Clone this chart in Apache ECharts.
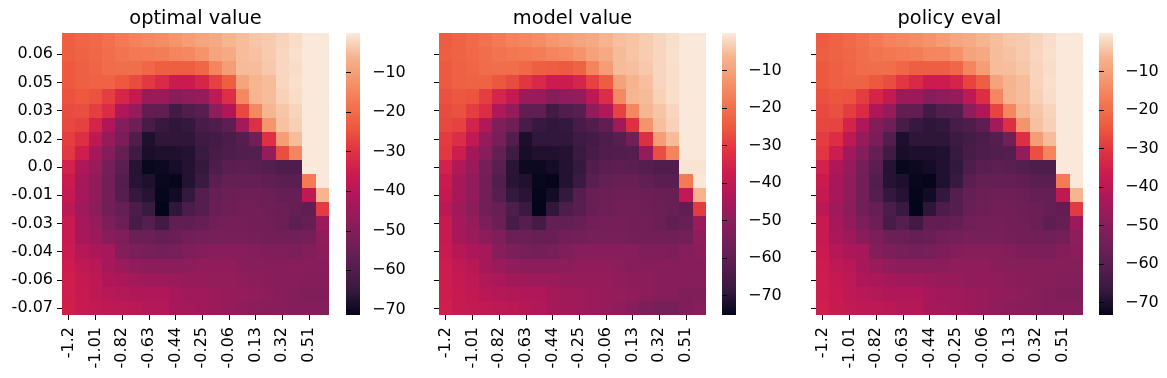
<!DOCTYPE html>
<html><head><meta charset="utf-8">
<style>html,body{margin:0;padding:0;background:#fff}#c{width:1167px;height:378px}</style>
<script src="https://cdn.jsdelivr.net/npm/echarts@6/dist/echarts.min.js"></script>
</head><body><div id="c"></div>
<script>
const xLabels=['-1.2','-1.11','-1.01','-0.91','-0.82','-0.73','-0.63','-0.54','-0.44','-0.35','-0.25','-0.15','-0.06','0.04','0.13','0.23','0.32','0.42','0.51','0.6'];
const yLabels=['0.07','0.06','0.06','0.05','0.04','0.03','0.03','0.02','0.01','0.0','-0.0','-0.01','-0.02','-0.03','-0.03','-0.04','-0.05','-0.06','-0.06','-0.07'];
const cbTicks1=[-10,-20,-30,-40,-50,-60,-70];
const cbTicks2=[-10,-20,-30,-40,-50,-60,-70];
const cbTicks3=[-10,-20,-30,-40,-50,-60,-70];
const titles=['optimal value','model value','policy eval'];
const ranges=[[-71.3,0],[-75.2,0],[-73.2,0]];
const rocket=['#03051a','#35193e','#541e4e','#701f57','#8e1d5b','#ad1759','#cb1b4f','#e13342','#ed5a3f','#f37651','#f5966d','#f6b48f','#faebdd'];
const optimal=[
[-23,-21.5,-20.5,-19,-17,-15.5,-14.5,-13.5,-12,-10.5,-9,-8,-6,-5,-4,-3.5,-2.5,-1.5,-.2,-.2],
[-23,-22,-21,-19.5,-18.5,-17.5,-17,-16.5,-15,-14.5,-12.5,-9,-8,-5,-4.5,-3.5,-2.3,-1.3,-.2,-.2],
[-24,-22.5,-21.5,-20,-19.5,-19.5,-21,-23,-23,-23,-21,-15,-10.5,-5.2,-5,-3.8,-2.3,-1.5,-.2,-.2],
[-24,-22.5,-22,-22,-24,-26,-29,-32,-36,-36,-33,-27.5,-23,-9,-6,-5,-2.3,-1.3,-.2,-.2],
[-25,-24,-25,-28,-33,-37,-45,-45,-49,-47.5,-46,-38,-31,-14.5,-6,-5,-2.8,-1.5,-.2,-.2],
[-26,-25.5,-28,-31.5,-41,-46,-56.5,-56.5,-63,-60,-58.8,-47.5,-41,-26.5,-14.5,-5.8,-4,-2.5,-.2,-.2],
[-26.5,-27.5,-33.5,-41,-50,-54,-61.6,-65,-66,-65.5,-61.6,-60.4,-57,-43.5,-30.5,-12,-4.5,-3,-.2,-.2],
[-28,-31,-38,-46,-51.5,-60,-68,-66,-66,-66,-63.5,-62.5,-60.9,-58.9,-53,-30.5,-10.5,-5,-.2,-.2],
[-29,-35,-43.5,-49.5,-56,-63.5,-68.5,-68,-68,-67.5,-64.5,-61.6,-60.4,-59.9,-59.4,-46,-25.5,-15,-.2,-.2],
[-34,-41,-45.5,-52.5,-58,-67,-70.5,-70,-69,-67.5,-65.5,-60.4,-58,-57.3,-58,-59.4,-60.4,-60.4,-.2,-.2],
[-36,-43,-47,-53,-59.9,-67,-68,-70.5,-71,-67.5,-64.5,-58,-56,-55.6,-55.6,-56.6,-58,-58,-17,-.2],
[-37,-43,-47,-53,-58.9,-65.5,-67,-71,-69.5,-65.5,-59.4,-55.6,-54.5,-54,-54,-54.5,-55.6,-55.6,-38,-6],
[-39,-44.5,-48,-53.5,-55.6,-61,-64.5,-71.3,-66,-60.9,-58.9,-55,-54,-53,-53,-54,-54.5,-55.6,-56.6,-28.5],
[-36.5,-43,-46.5,-51,-54.5,-62,-59.4,-63,-56.6,-56.6,-55.6,-53,-52.5,-52.5,-53,-53,-54.5,-57,-55.6,-45],
[-36.5,-42.5,-45,-48.5,-50.5,-54.5,-54.5,-55.6,-55,-53,-52.5,-52,-52,-52,-52.5,-53,-53,-53.5,-52.5,-47],
[-36,-40,-42,-43,-49.5,-51,-52,-52.5,-52,-50.5,-49.5,-49,-49,-49,-49.5,-50.5,-50.5,-51,-49.5,-48],
[-35.5,-38,-39.5,-43,-45.5,-47,-48,-48,-48,-48,-47,-47,-47,-48.5,-49,-49,-49,-49,-49,-49],
[-35,-37,-38.5,-41,-42,-43.5,-44,-44.5,-45,-46,-46,-46.5,-46.5,-47,-48,-48.5,-49,-49,-49.5,-49.5],
[-35,-36.5,-38,-39.5,-40.5,-41,-41,-41,-43,-44,-44.5,-45,-46,-46.5,-47,-48,-49,-49.5,-50.5,-50.5],
[-34.5,-36.5,-37.5,-38,-38.5,-39,-40,-40.5,-43,-43.5,-44,-45,-46,-47,-48,-48.5,-49,-49.5,-49.5,-49.5]];
const model=[
[-24.5,-23,-21.5,-20,-18,-16.5,-15.5,-14.5,-12.5,-11,-9.5,-8.5,-6.5,-5,-4.5,-3.5,-2.5,-1.5,-.2,-.2],
[-24,-23,-22,-20.5,-19.5,-18.5,-18,-17.5,-16,-15,-13,-10,-8.5,-5.5,-4.5,-3.5,-2.5,-1.3,-.2,-.2],
[-25,-23.5,-22.5,-21,-20.5,-20.5,-22,-24,-24.5,-25,-23,-16,-11,-5.5,-5,-4,-2.5,-1.5,-.2,-.2],
[-25,-23.5,-23,-23,-25.5,-27.5,-31,-34,-37.5,-37.5,-35,-29,-24.5,-10,-6.5,-5,-2.5,-1.5,-.2,-.2],
[-26.5,-25.5,-26,-29.5,-35,-39,-47.5,-47.5,-52,-50,-49,-40.5,-33,-15,-6,-5.5,-3,-1.5,-.2,-.2],
[-27.5,-26.5,-29.5,-33,-43,-48.5,-60,-60,-66.5,-63.5,-62,-50,-43,-29,-15.5,-6,-4.5,-2.5,-.2,-.2],
[-28,-29,-35.5,-43,-53,-57,-65,-68.5,-69.5,-69,-65,-63.5,-60,-46,-32,-13,-5,-3,-.2,-.2],
[-30,-33,-40,-48.5,-54.5,-63,-72,-69.5,-69.5,-69.5,-67,-66,-64,-62,-56,-32.5,-11,-5.5,-.2,-.2],
[-30.5,-37,-46,-52,-59,-67,-72.5,-71.5,-71.5,-71,-68,-65,-63.5,-63,-62.5,-48.5,-27,-16,-.2,-.2],
[-36,-43,-48,-55.5,-61,-70.5,-74,-74,-73,-71,-69,-63.5,-61,-60.5,-61,-62.5,-63.5,-63.5,-.8,-.8],
[-38,-45,-49.5,-56,-63,-70.5,-71.5,-74.5,-75,-71,-68,-61,-59,-58.5,-58.5,-59.5,-61,-61,-18,-.5],
[-39,-45,-49.5,-56,-62,-69,-70.5,-75,-73,-69,-62.5,-58.5,-57.5,-57,-57,-57.5,-58.5,-58.5,-40,-6.5],
[-41,-47,-50.5,-56.5,-58.5,-64,-68,-75.2,-69.5,-64,-62,-58,-57,-56,-56,-57,-57.5,-58.5,-60,-30],
[-38.5,-45,-49,-54,-57.5,-65,-62.5,-66,-59.5,-59.5,-58.5,-56,-55.5,-55.5,-56,-56,-57.5,-60,-58.5,-47.5],
[-38.5,-45,-47.5,-51,-53,-57.5,-57.5,-58.5,-58,-56,-55.5,-55,-55,-55,-55.5,-56,-56,-56.5,-55.5,-49.5],
[-38,-42,-44,-45.5,-52,-54,-55,-55.5,-55,-53,-52,-51.5,-51.5,-51.5,-52,-53,-53,-53.5,-52,-50.5],
[-37,-40,-41.5,-45,-48,-49.5,-50.5,-50.5,-50.5,-50.5,-49.5,-49.5,-49.5,-51,-51.5,-51.5,-51.5,-51.5,-51.5,-51.5],
[-37,-39,-40.5,-43,-44.5,-46,-46.5,-47,-47.5,-48.5,-48.5,-49,-49,-49.5,-50.5,-51,-51.5,-51.5,-52,-52],
[-37,-38.5,-40,-41.5,-42.5,-43,-43.5,-43.5,-45.5,-46.5,-47,-47.5,-48.5,-49,-49.5,-50.5,-51.5,-52,-53,-53],
[-36.5,-38.5,-39.5,-40,-40.5,-41,-42,-43,-45,-46,-47,-48,-49,-50,-52,-54,-55,-55,-53,-52]];
const policy=[
[-24,-22.5,-21,-19.5,-17.5,-16,-15,-14,-12.5,-11,-9,-8,-6,-5,-4,-3.5,-2.5,-1.5,-.2,-.2],
[-23.5,-22.5,-21.5,-20,-19,-18,-17.5,-17,-15.5,-15,-13,-9.5,-8.5,-5.2,-4.5,-3.5,-2.3,-1.3,-.2,-.2],
[-24.5,-23,-22,-20.5,-20,-20,-21.5,-23.5,-23.5,-23.5,-21.5,-15.5,-10.5,-5.2,-5,-4,-2.5,-1.5,-.2,-.2],
[-24.5,-23,-22.5,-22.5,-24.5,-26.5,-30,-33,-36.5,-36.5,-34,-28,-23.5,-9.5,-6.2,-5.2,-2.5,-1.3,-.2,-.2],
[-26,-25,-25.5,-29,-34,-38,-46,-46,-50.5,-49,-47.5,-39,-32,-15,-6,-5.2,-3,-1.5,-.2,-.2],
[-27,-26,-29,-32.5,-42,-47.5,-58,-58,-65,-61.5,-60.5,-49,-42,-28,-15,-6,-4.2,-2.5,-.2,-.2],
[-27.5,-28,-34.5,-42,-51.5,-55.5,-63.5,-67,-68,-67.5,-63.5,-62,-58.5,-44.5,-31.5,-12.5,-4.8,-3,-.2,-.2],
[-29,-32,-39,-47.5,-53,-61.5,-70,-68,-68,-68,-65.5,-64,-62.5,-60.5,-54.5,-31.5,-10.8,-5.2,-.2,-.2],
[-30,-36,-45,-51,-57.5,-65,-70.5,-70,-70,-69.5,-66.5,-63.5,-62,-61.5,-61,-47.5,-26,-15.5,-.2,-.2],
[-35,-42,-47,-54,-59.5,-69,-72.5,-72,-71,-69.5,-67.5,-62,-59.5,-59,-59.5,-61,-62,-62,-.2,-.2],
[-37,-44,-48.5,-54.5,-61.5,-69,-70,-72.5,-73,-69.5,-66.5,-59.5,-57.5,-57,-57,-58,-59.5,-59.5,-17.5,-.2],
[-38,-44,-48.5,-54.5,-60.5,-67.5,-69,-73,-71.5,-67.5,-61,-57,-56,-55.5,-55.5,-56,-57,-57,-39,-6],
[-40,-45.5,-49.5,-55,-57,-62.5,-66.5,-73.2,-68,-62.5,-60.5,-56.5,-55.5,-54.5,-54.5,-55.5,-56,-57,-58,-29.5],
[-37.5,-44,-48,-52.5,-56,-63.5,-61,-64.5,-58,-58,-57,-54.5,-54,-54,-54.5,-54.5,-56,-58.5,-57,-46],
[-37.5,-43.5,-46,-50,-52,-56,-56,-57,-56.5,-54.5,-54,-53.5,-53.5,-53.5,-54,-54.5,-54.5,-55,-54,-48.5],
[-37,-41,-43,-44,-51,-52.5,-53.5,-54,-53.5,-52,-51,-50.5,-50.5,-50.5,-51,-52,-52,-52.5,-51,-49.5],
[-36.5,-39,-40.5,-44,-46.5,-48.5,-49.5,-49.5,-49.5,-49.5,-48.5,-48.5,-48.5,-50,-50.5,-50.5,-50.5,-50.5,-50.5,-50.5],
[-36,-38,-39.5,-42,-43,-44.5,-45,-45.5,-46,-47,-47,-48,-48,-48.5,-49.5,-50,-50.5,-50.5,-51,-51],
[-36,-37.5,-39,-40.5,-41.5,-42,-42,-42,-44,-45,-45.5,-46,-47,-48,-48.5,-49.5,-50.5,-51,-52,-52],
[-35.5,-37.5,-38.5,-39,-39.5,-40,-41,-41.5,-44,-44.5,-45,-46,-47,-48.5,-49.5,-50,-50.5,-51,-51,-51]];
const matrices=[optimal,model,policy];
const cbTicks=[cbTicks1,cbTicks2,cbTicks3];
const FONT='"DejaVu Sans"';
const TICK='#000';
const FS=16;
const panelX=[62,439,816], cbX=[346,722,1099];
const TOP=33,W=267,H=282,CW=14;
const gradient=()=>new echarts.graphic.LinearGradient(0,1,0,0,rocket.map((c,i)=>({offset:i/(rocket.length-1),color:c})));
const renderCell=(params,api)=>{
  const c=api.coord([api.value(0),api.value(1)]);
  const s=api.size([1,1]);
  const x0=Math.round(c[0]-s[0]/2),x1=Math.round(c[0]+s[0]/2)+1;
  const y0=Math.round(c[1]-s[1]/2),y1=Math.round(c[1]+s[1]/2)+1;
  return {type:'rect',shape:{x:x0,y:y0,width:x1-x0,height:y1-y0},style:{fill:api.visual('color')}};
};
const opt={animation:false,backgroundColor:'#fff',title:[],grid:[],xAxis:[],yAxis:[],visualMap:[],series:[]};
matrices.forEach((m,p)=>{
  opt.title.push({text:titles[p],left:panelX[p]+W/2,top:9,textAlign:'center',padding:0,
    textStyle:{fontFamily:FONT,fontSize:19.4,fontWeight:'normal',color:TICK}});
  opt.grid.push({left:panelX[p],top:TOP,width:W,height:H});
  opt.xAxis.push({type:'category',gridIndex:p,data:xLabels,splitArea:{show:false},splitLine:{show:false},
    axisLine:{show:false},
    axisTick:{show:true,alignWithLabel:true,interval:1,length:5,lineStyle:{color:TICK,width:1}},
    axisLabel:{show:true,interval:1,rotate:90,margin:12,fontFamily:FONT,fontSize:FS,color:TICK,verticalAlign:'middle'}});
  opt.yAxis.push({type:'category',gridIndex:p,inverse:true,data:yLabels,splitArea:{show:false},splitLine:{show:false},
    axisLine:{show:false},
    axisTick:{show:true,alignWithLabel:true,interval:i=>i%2===1,length:5,lineStyle:{color:TICK,width:1}},
    axisLabel:{show:p===0,interval:i=>i%2===1,margin:9,fontFamily:FONT,fontSize:FS,color:TICK}});
  const d=[];m.forEach((r,y)=>r.forEach((v,x)=>d.push([x,y,v])));
  opt.visualMap.push({type:'continuous',show:false,seriesIndex:p,dimension:2,min:ranges[p][0],max:ranges[p][1],inRange:{color:rocket}});
  opt.series.push({type:'custom',xAxisIndex:p,yAxisIndex:p,data:d,silent:true,clip:true,encode:{x:0,y:1},renderItem:renderCell,progressive:0});
});
cbTicks.forEach((t,p)=>{
  const g=opt.grid.length;
  opt.grid.push({left:cbX[p],top:TOP,width:CW,height:H,show:true,borderWidth:0,backgroundColor:gradient()});
  opt.xAxis.push({type:'value',gridIndex:g,show:false,min:0,max:1});
  opt.yAxis.push({type:'value',gridIndex:g,position:'right',min:ranges[p][0],max:ranges[p][1],splitLine:{show:false},
    axisLine:{show:false},
    axisTick:{show:true,length:5,customValues:t,lineStyle:{color:TICK,width:1}},
    axisLabel:{show:true,margin:12,customValues:t,fontFamily:FONT,fontSize:FS,color:TICK,
      formatter:v=>String(v).replace('-','\u2212')}});
});
const chart=echarts.init(document.getElementById('c'),null,{renderer:'canvas'});
chart.setOption(opt);
</script></body></html>
